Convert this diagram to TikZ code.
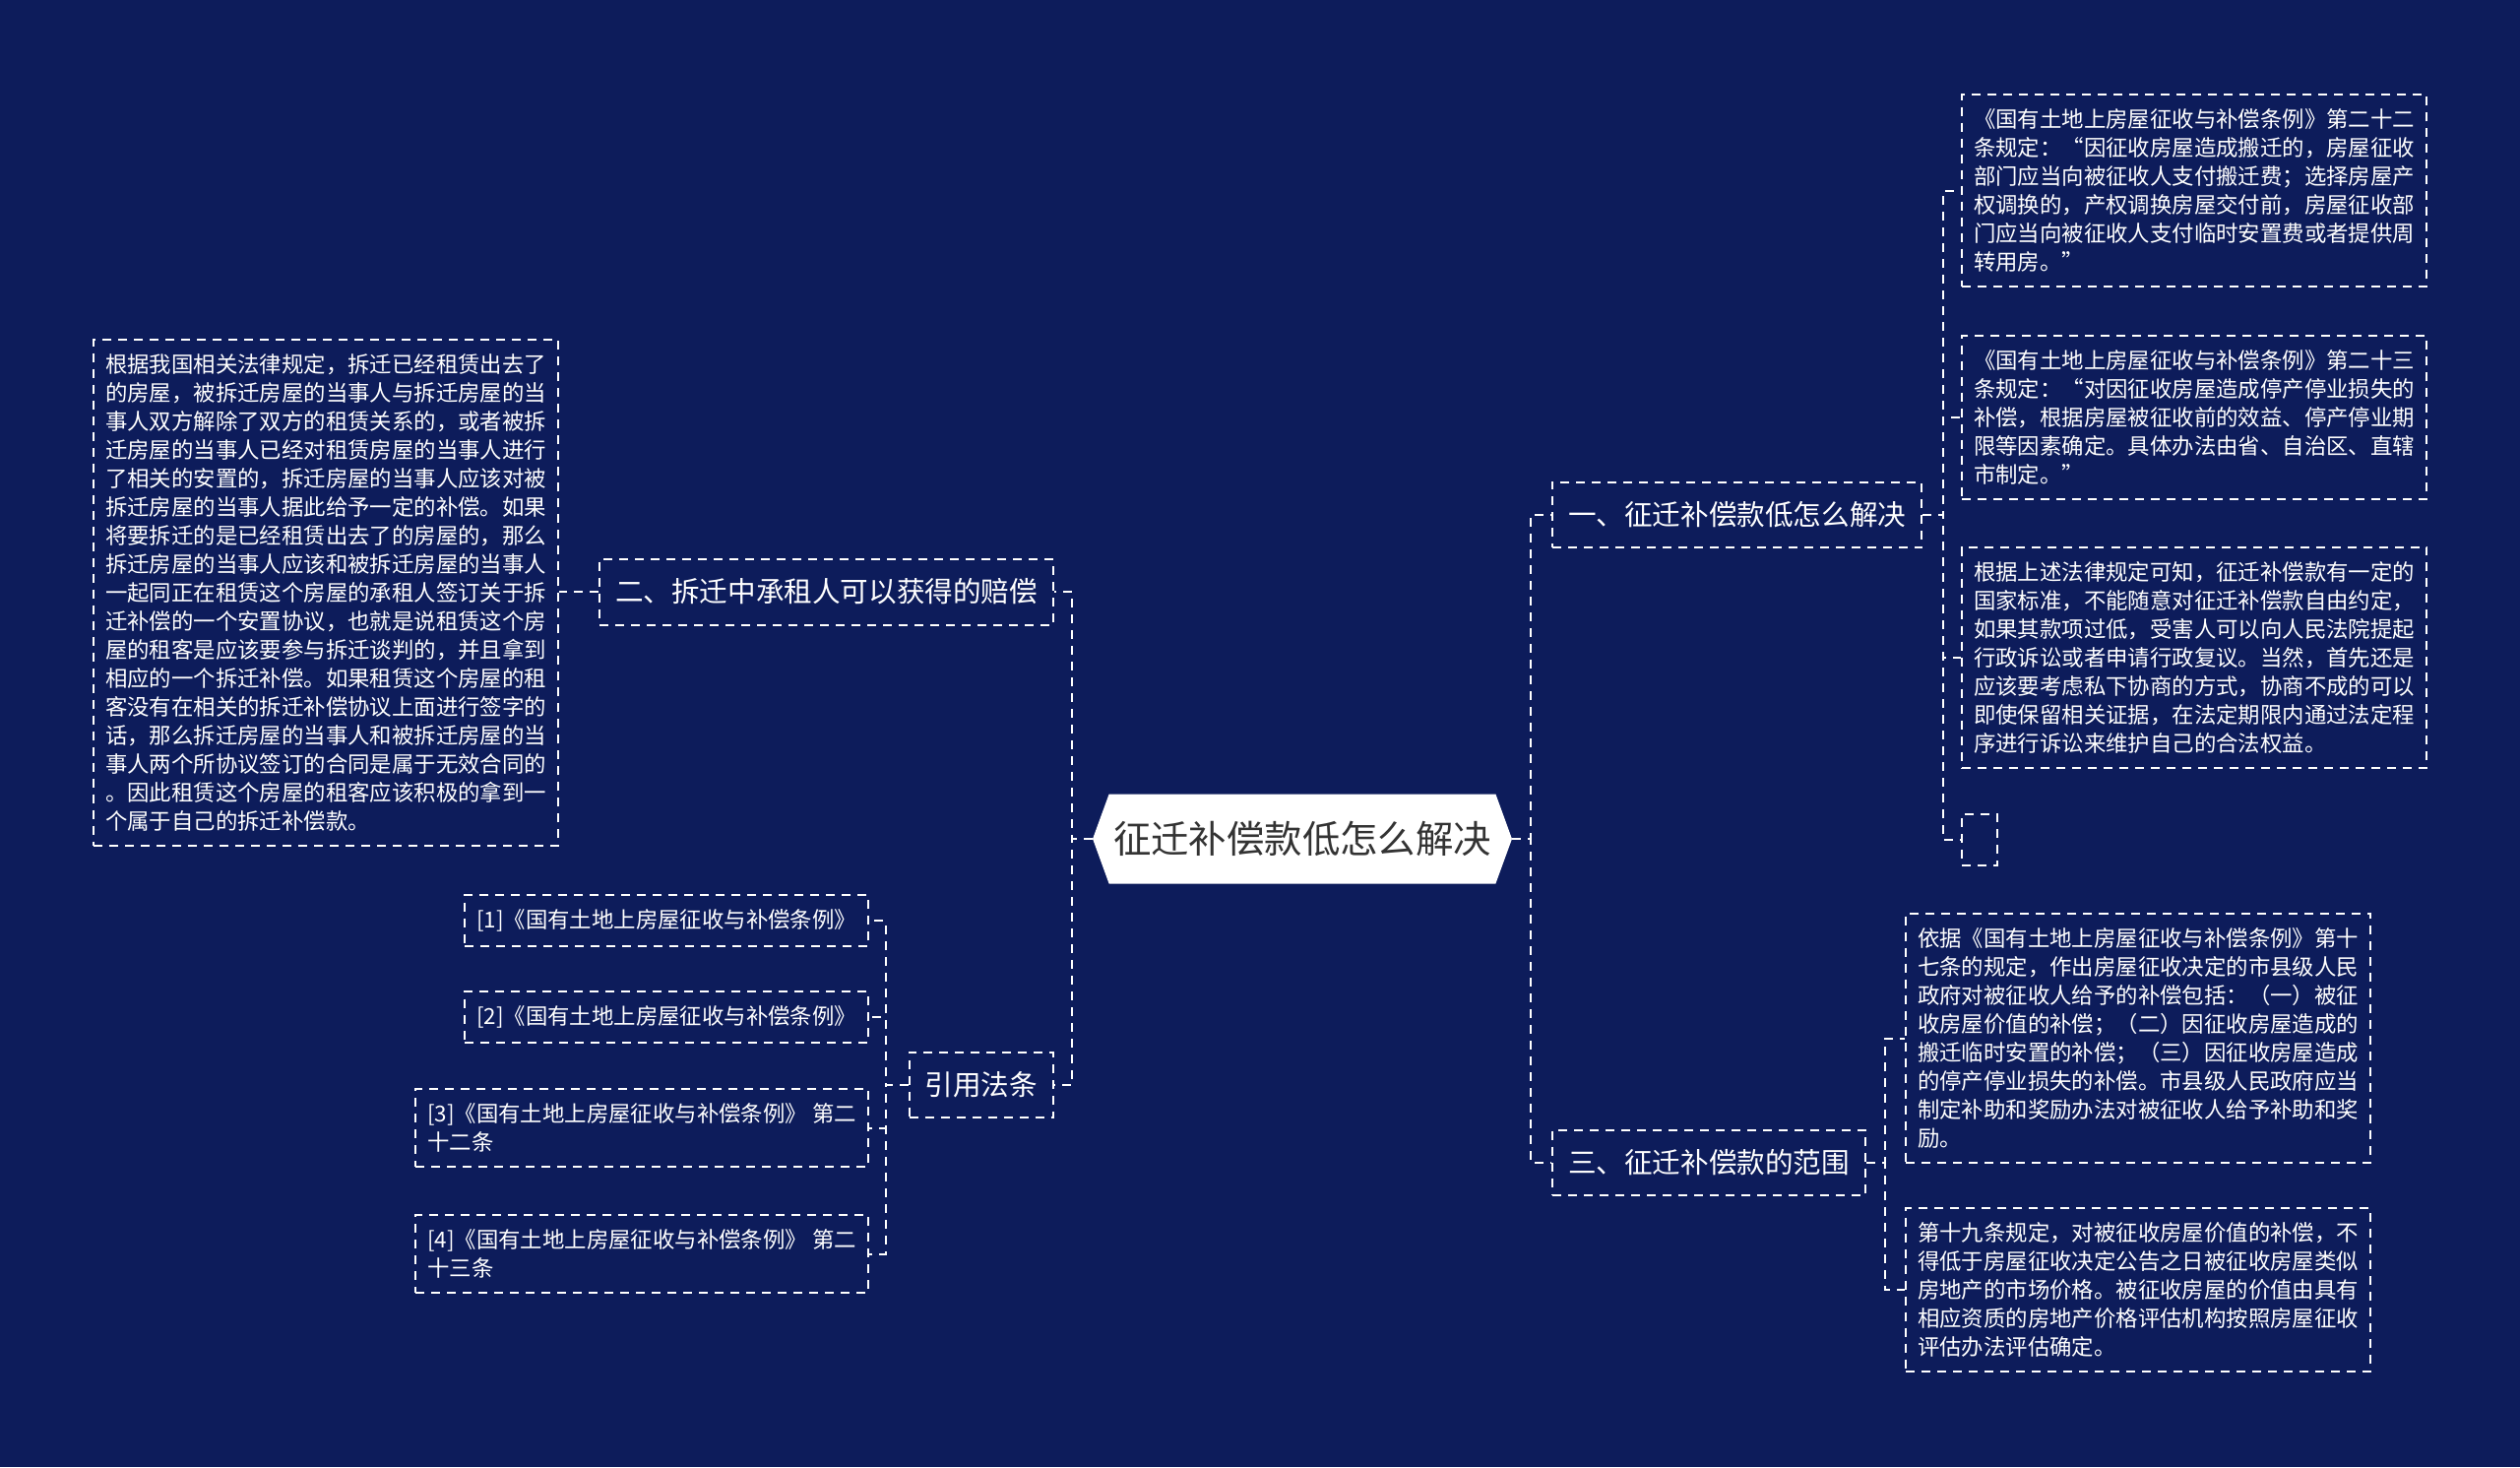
\documentclass[tikz,border=0pt]{standalone}
\usepackage{fontspec}
\setmainfont{Noto Sans CJK SC}
\usepackage{tikz}
\usetikzlibrary{positioning, shapes.symbols, calc}
\definecolor{bgblue}{HTML}{0D1C5B}
\definecolor{rootgray}{HTML}{333333}
\newcommand{\leaffont}{\fontsize{11.2pt}{14.5pt}\selectfont}

\begin{document}
\begin{tikzpicture}[
    x=0.5pt, y=-0.5pt,
    root/.style={
        signal, signal to=east and west, signal pointer angle=140,
        fill=white, text=rootgray,
        font=\fontsize{19.2pt}{23pt}\selectfont,
        inner xsep=2.2pt, inner ysep=0pt,
        minimum height=45.5pt,
      },
    dashline/.style={
        draw=white, line width=1pt,
        dash pattern=on 4.5pt off 3.5pt,
      },
    branch/.style={
        dashline, text=white,
        font=\fontsize{14.3pt}{17pt}\selectfont,
        inner xsep=8pt, inner ysep=10.1pt,
      },
    leaf/.style={
        dashline, text=white, align=left,
        font=\leaffont,
        inner xsep=6pt, inner ysep=7.4pt,
      },
    link/.style={dashline},
  ]

  % Hintergrund
  \fill[bgblue] (0,0) rectangle (2560,1490);
  \useasboundingbox (0,0) rectangle (2560,1490);

  % Mitte
  \node[root] (root) at (1323,852) {征迁补偿款低怎么解决};

  % Hauptzweige
  \node[branch, anchor=west] (sec1) at (1576,523) {一、征迁补偿款低怎么解决};
  \node[branch, anchor=west] (sec3) at (1576,1181) {三、征迁补偿款的范围};
  \node[branch, anchor=east] (sec2) at (1071,601) {二、拆迁中承租人可以获得的赔偿};
  \node[branch, anchor=east] (cite) at (1071,1102) {引用法条};

  % Blaetter zu Zweig 1
  \node[leaf, anchor=north west] (law22) at (1992,95) {%
    《国有土地上房屋征收与补偿条例》第二十二\\
    条规定：“因征收房屋造成搬迁的，房屋征收\\
    部门应当向被征收人支付搬迁费；选择房屋产\\
    权调换的，产权调换房屋交付前，房屋征收部\\
    门应当向被征收人支付临时安置费或者提供周\\
    转用房。”};
  \node[leaf, anchor=north west] (law23) at (1992,340) {%
    《国有土地上房屋征收与补偿条例》第二十三\\
    条规定：“对因征收房屋造成停产停业损失的\\
    补偿，根据房屋被征收前的效益、停产停业期\\
    限等因素确定。具体办法由省、自治区、直辖\\
    市制定。”};
  \node[leaf, anchor=north west] (sum) at (1992,555) {%
    根据上述法律规定可知，征迁补偿款有一定的\\
    国家标准，不能随意对征迁补偿款自由约定，\\
    如果其款项过低，受害人可以向人民法院提起\\
    行政诉讼或者申请行政复议。当然，首先还是\\
    应该要考虑私下协商的方式，协商不成的可以\\
    即使保留相关证据，在法定期限内通过法定程\\
    序进行诉讼来维护自己的合法权益。};
  \node[leaf, anchor=north west, minimum width=18pt, minimum height=26pt]
    (empty) at (1992,826) {};

  % Blaetter zu Zweig 3
  \node[leaf, anchor=north west] (art17) at (1935,927) {%
    依据《国有土地上房屋征收与补偿条例》第十\\
    七条的规定，作出房屋征收决定的市县级人民\\
    政府对被征收人给予的补偿包括：（一）被征\\
    收房屋价值的补偿；（二）因征收房屋造成的\\
    搬迁临时安置的补偿；（三）因征收房屋造成\\
    的停产停业损失的补偿。市县级人民政府应当\\
    制定补助和奖励办法对被征收人给予补助和奖\\
    励。};
  \node[leaf, anchor=north west] (art19) at (1935,1226) {%
    第十九条规定，对被征收房屋价值的补偿，不\\
    得低于房屋征收决定公告之日被征收房屋类似\\
    房地产的市场价格。被征收房屋的价值由具有\\
    相应资质的房地产价格评估机构按照房屋征收\\
    评估办法评估确定。};

  % Blatt zu Zweig 2
  \node[leaf, anchor=north east] (tenant) at (568,344) {%
    根据我国相关法律规定，拆迁已经租赁出去了\\
    的房屋，被拆迁房屋的当事人与拆迁房屋的当\\
    事人双方解除了双方的租赁关系的，或者被拆\\
    迁房屋的当事人已经对租赁房屋的当事人进行\\
    了相关的安置的，拆迁房屋的当事人应该对被\\
    拆迁房屋的当事人据此给予一定的补偿。如果\\
    将要拆迁的是已经租赁出去了的房屋的，那么\\
    拆迁房屋的当事人应该和被拆迁房屋的当事人\\
    一起同正在租赁这个房屋的承租人签订关于拆\\
    迁补偿的一个安置协议，也就是说租赁这个房\\
    屋的租客是应该要参与拆迁谈判的，并且拿到\\
    相应的一个拆迁补偿。如果租赁这个房屋的租\\
    客没有在相关的拆迁补偿协议上面进行签字的\\
    话，那么拆迁房屋的当事人和被拆迁房屋的当\\
    事人两个所协议签订的合同是属于无效合同的\\
    。因此租赁这个房屋的租客应该积极的拿到一\\
    个属于自己的拆迁补偿款。};

  % Quellen
  \node[leaf, anchor=north east] (ref1) at (883,908) {[1]《国有土地上房屋征收与补偿条例》};
  \node[leaf, anchor=north east] (ref2) at (883,1006) {[2]《国有土地上房屋征收与补偿条例》};
  \node[leaf, anchor=north east] (ref3) at (883,1105) {[3]《国有土地上房屋征收与补偿条例》 第二\\十二条};
  \node[leaf, anchor=north east] (ref4) at (883,1233) {[4]《国有土地上房屋征收与补偿条例》 第二\\十三条};

  % Verbindungen
  \foreach \b in {sec1,sec3}
    \draw[link] (root.east) -- ++(19,0) |- (\b.west);
  \foreach \b in {sec2,cite}
    \draw[link] (root.west) -- ++(-21,0) |- (\b.east);
  \foreach \l in {law22,law23,sum,empty}
    \draw[link] (sec1.east) -- ++(21,0) |- (\l.west);
  \foreach \l in {art17,art19}
    \draw[link] (sec3.east) -- ++(19,0) |- (\l.west);
  \draw[link] (sec2.west) -- (tenant.east |- sec2.west);
  \foreach \r in {ref1,ref2,ref3,ref4}
    \draw[link] (cite.west) -- ++(-23,0) |- (\r.east);

\end{tikzpicture}
\end{document}
